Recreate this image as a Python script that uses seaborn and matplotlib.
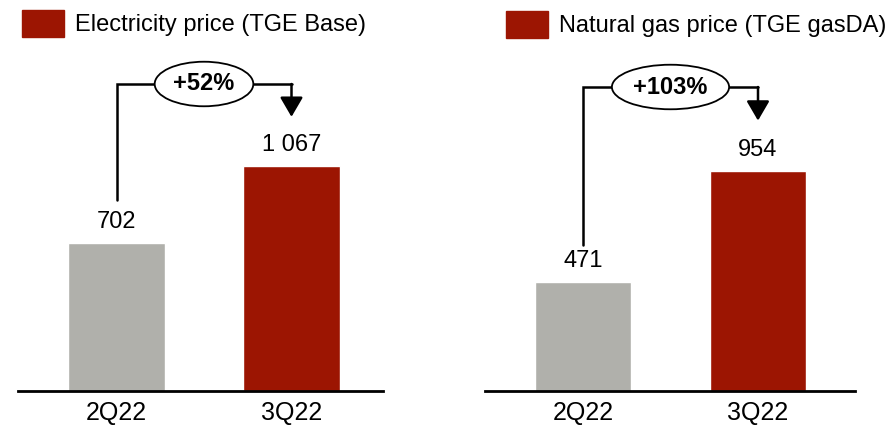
import numpy as np
import pandas as pd
import matplotlib
matplotlib.use("Agg")
import matplotlib.pyplot as plt
from matplotlib.patches import Patch
import seaborn as sns

# data
quarters = ["2Q22", "3Q22"]
elec_price = [702, 1067]
gas_price = [471, 954]
elec_labels = ["702", "1 067"]
gas_labels = ["471", "954"]
elec_change = "+52%"
gas_change = "+103%"
titles = ["Electricity price (TGE Base)", "Natural gas price (TGE gasDA)"]

GREY = "#B0B0AB"
RED = "#9C1502"

sns.set_theme(style="white")
plt.rcParams["font.family"] = ["Liberation Sans Narrow", "Liberation Sans", "DejaVu Sans"]

W, H = 891, 433
fig = plt.figure(figsize=(W / 100, H / 100), dpi=100)

def px_axes(x0, x1, ybot, ytop):
    return fig.add_axes([x0 / W, (H - ybot) / H, (x1 - x0) / W, (ybot - ytop) / H])

panels = [
    dict(vals=elec_price, labs=elec_labels, chg=elec_change, x0=18, x1=383,
         c0=116.5, scale=0.211, start=43, tip=49, top=84),
    dict(vals=gas_price, labs=gas_labels, chg=gas_change, x0=485, x1=855,
         c0=583, scale=0.231, start=37, tip=50, top=87),
]

ybot, ytop = 391, 60
for p in panels:
    ax = px_axes(p["x0"], p["x1"], ybot, ytop)
    df = pd.DataFrame({"q": quarters, "v": p["vals"]})
    sns.barplot(data=df, x="q", y="v", hue="q", palette=[GREY, RED],
                width=0.554, legend=False, ax=ax, saturation=1)
    spacing = 175
    ax.set_xlim(-(p["c0"] - p["x0"]) / spacing, -(p["c0"] - p["x0"]) / spacing + (p["x1"] - p["x0"]) / spacing)
    ymax = (ybot - ytop) / p["scale"]
    ax.set_ylim(0, ymax)
    for s in ["top", "right", "left"]:
        ax.spines[s].set_visible(False)
    ax.spines["bottom"].set_color("black")
    ax.spines["bottom"].set_linewidth(2)
    ax.set_xlabel("")
    ax.set_ylabel("")
    ax.set_yticks([])
    ax.tick_params(axis="x", length=0, pad=7, labelsize=18, labelcolor="black")
    for i, (v, lab) in enumerate(zip(p["vals"], p["labs"])):
        ax.annotate(lab, (i, v), xytext=(0, 7), textcoords="offset points",
                    ha="center", va="bottom", fontsize=17, color="black")
    # connector
    px = p["scale"]
    y_start = p["vals"][0] + p["start"] / px
    y_top = (ybot - p["top"]) / px
    y_tip = p["vals"][1] + p["tip"] / px
    ax.plot([0, 0, 1, 1], [y_start, y_top, y_top, y_top], color="black", lw=1.8,
            solid_joinstyle="miter", clip_on=False)
    ax.annotate("", xy=(1, y_tip), xytext=(1, y_top),
                arrowprops=dict(arrowstyle="-|>,head_length=0.6,head_width=0.35",
                                color="black", lw=1.8, mutation_scale=20,
                                shrinkA=0, shrinkB=0), annotation_clip=False)
    ax.text(0.5, y_top, p["chg"], ha="center", va="center", fontsize=17,
            fontweight="bold", color="black",
            bbox=dict(boxstyle="ellipse,pad=0.18", fc="white", ec="black", lw=1.3))

# legend-like headers
for (lx, ly), t in zip([(22, 10), (506, 11)], titles):
    fig.legend(handles=[Patch(color=RED)], labels=[t], loc="upper left",
               bbox_to_anchor=(lx / W, 1 - ly / H), frameon=False, fontsize=17,
               handlelength=1.78, handleheight=1.36, handletextpad=0.45,
               borderpad=0, borderaxespad=0, labelcolor="black")

fig.savefig("out.png", dpi=100)
